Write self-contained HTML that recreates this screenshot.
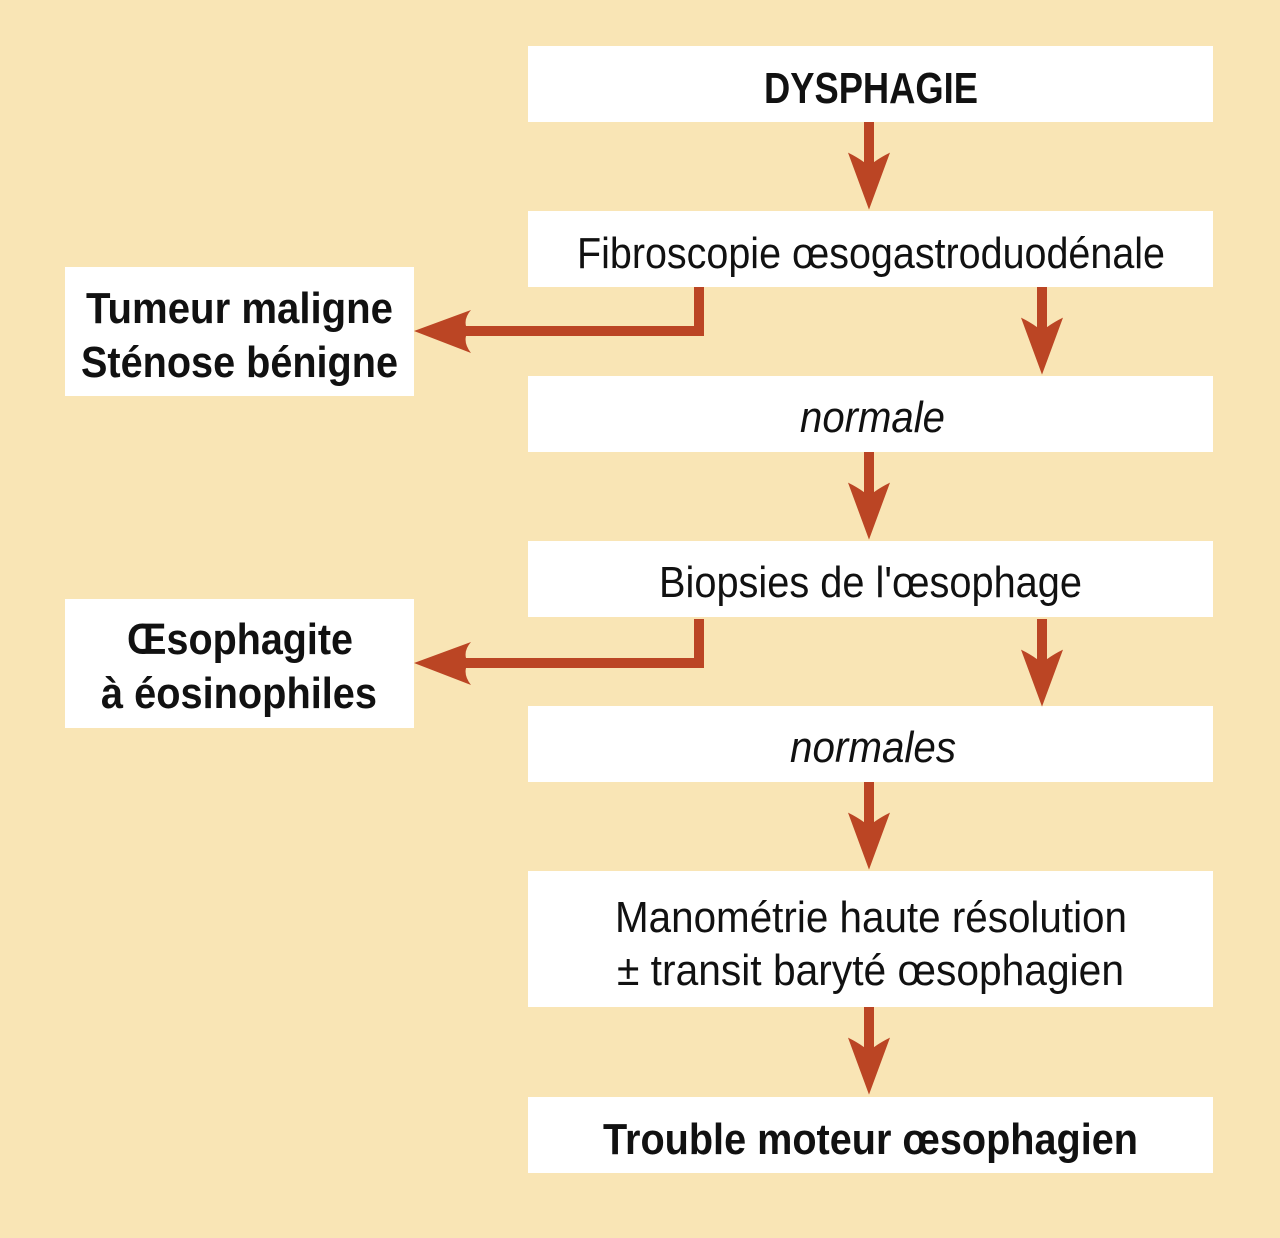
<!DOCTYPE html>
<html><head><meta charset="utf-8"><style>
html,body{margin:0;padding:0;background:#f9e5b5;}
svg{display:block}
text{font-family:"Liberation Sans Narrow","Liberation Sans",sans-serif;fill:#111;font-size:44px}
.b{font-weight:bold}
.i{font-style:italic}
</style></head><body>
<svg width="1280" height="1238" viewBox="0 0 1280 1238" xmlns="http://www.w3.org/2000/svg">
<rect width="1280" height="1238" fill="#f9e5b5"/>
<g fill="#fff">
<rect x="528" y="46" width="685" height="76"/>
<rect x="528" y="211" width="685" height="76"/>
<rect x="528" y="376" width="685" height="76"/>
<rect x="528" y="541" width="685" height="76"/>
<rect x="528" y="706" width="685" height="76"/>
<rect x="528" y="871" width="685" height="136"/>
<rect x="528" y="1097" width="685" height="76"/>
<rect x="65" y="267" width="349" height="129"/>
<rect x="65" y="599" width="349" height="129"/>
</g>
<defs>
<path id="dn" d="M-5,0 H5 V55 Q12,48 21,42 L0,120 L-21,42 Q-12,48 -5,55 Z"/>
</defs>
<g fill="#bb4524">
<!-- center down arrows: from y to y+~87 -->
<g transform="translate(869,122) scale(1,0.73)"><use href="#dn"/></g>
<g transform="translate(869,452) scale(1,0.73)"><use href="#dn"/></g>
<g transform="translate(869,782) scale(1,0.73)"><use href="#dn"/></g>
<g transform="translate(869,1007) scale(1,0.73)"><use href="#dn"/></g>
<!-- right down arrows -->
<g transform="translate(1042,287) scale(1,0.73)"><use href="#dn"/></g>
<g transform="translate(1042,619) scale(1,0.73)"><use href="#dn"/></g>
<!-- left elbow arrows -->
<path d="M694,287 H704 V336 H466 Q464,344 471,353 L414,331 L471,310 Q464,318 466,326 H694 Z"/>
<path d="M694,619 H704 V668 H466 Q464,676 471,685 L414,663 L471,642 Q464,650 466,658 H694 Z"/>
</g>
<text class="b" x="764" y="103" textLength="214" lengthAdjust="spacingAndGlyphs">DYSPHAGIE</text>
<text x="577" y="268" textLength="588" lengthAdjust="spacingAndGlyphs">Fibroscopie œsogastroduodénale</text>
<text class="b" x="86" y="323" textLength="307" lengthAdjust="spacingAndGlyphs">Tumeur maligne</text>
<text class="b" x="81" y="377" textLength="317" lengthAdjust="spacingAndGlyphs">Sténose bénigne</text>
<text class="i" x="800" y="432" textLength="145" lengthAdjust="spacingAndGlyphs">normale</text>
<text x="659" y="597" textLength="423" lengthAdjust="spacingAndGlyphs">Biopsies de l'œsophage</text>
<text class="b" x="127" y="654" textLength="226" lengthAdjust="spacingAndGlyphs">Œsophagite</text>
<text class="b" x="101" y="708" textLength="276" lengthAdjust="spacingAndGlyphs">à éosinophiles</text>
<text class="i" x="790" y="762" textLength="166" lengthAdjust="spacingAndGlyphs">normales</text>
<text x="615" y="932" textLength="512" lengthAdjust="spacingAndGlyphs">Manométrie haute résolution</text>
<text x="617" y="985" textLength="507" lengthAdjust="spacingAndGlyphs">± transit baryté œsophagien</text>
<text class="b" x="603" y="1154" textLength="535" lengthAdjust="spacingAndGlyphs">Trouble moteur œsophagien</text>
</svg>
</body></html>
